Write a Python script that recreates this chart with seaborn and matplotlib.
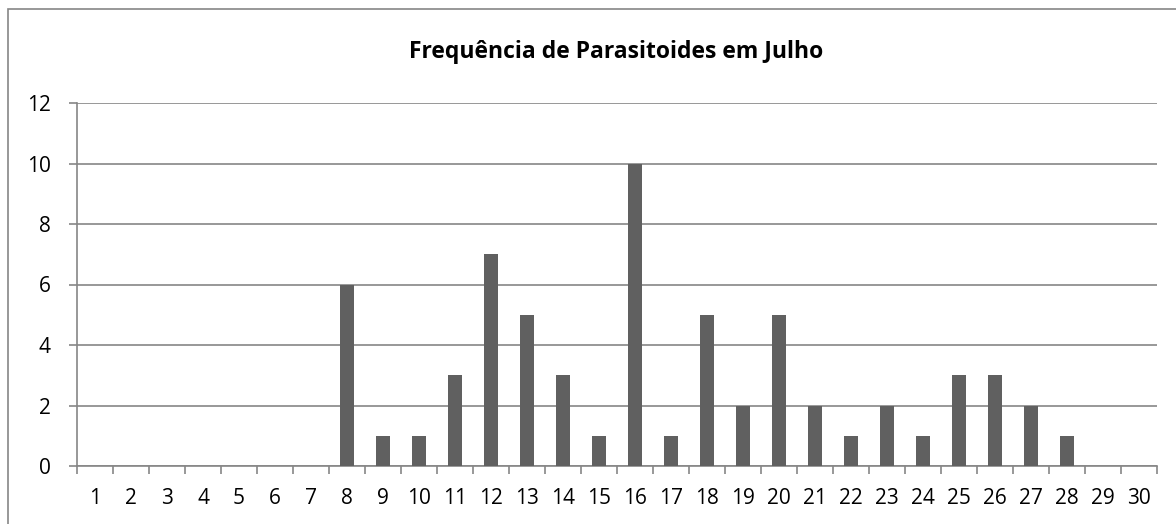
import matplotlib
matplotlib.use("Agg")
import matplotlib.pyplot as plt
import seaborn as sns
import pandas as pd
from matplotlib.patches import Rectangle

# dados
dias = [str(d) for d in range(1, 31)]
frequencia = [0, 0, 0, 0, 0, 0, 0, 6, 1, 1, 3, 7, 5, 3, 1,
              10, 1, 5, 2, 5, 2, 1, 2, 1, 3, 3, 2, 1, 0, 0]
yticks = [0, 2, 4, 6, 8, 10, 12]

df = pd.DataFrame({"dia": dias, "freq": frequencia})

sns.set_style("white")
plt.rcParams["font.family"] = ["Open Sans", "DejaVu Sans"]

fig = plt.figure(figsize=(11.76, 5.24), dpi=100)
ax = fig.add_axes([77 / 1176, 58 / 524, 1080 / 1176, 363 / 524])

grid_c = "#868686"
# borda externa do gráfico (só topo e esquerda ficam visíveis)
fig.patches.append(Rectangle((8 / 1176, -0.1), 1.2, (524 - 9) / 524 + 0.1,
                             transform=fig.transFigure, fill=False,
                             edgecolor=grid_c, linewidth=1.2))

sns.barplot(data=df, x="dia", y="freq", color="#606060", width=0.39,
            saturation=1, linewidth=0, ax=ax, zorder=3)

ax.set_xlim(-0.5, 29.5)
ax.set_ylim(0, 12)
ax.set_yticks(yticks)
ax.yaxis.grid(True, color=grid_c, linewidth=1.2, zorder=0)
ax.set_axisbelow(True)
for s in ["top", "right"]:
    ax.spines[s].set_visible(False)
for s in ["left", "bottom"]:
    ax.spines[s].set_color(grid_c)
    ax.spines[s].set_linewidth(1.2)

# marcas do eixo x entre categorias
ax.set_xticks([i + 0.5 for i in range(-1, 30)], minor=True)
ax.tick_params(axis="x", which="minor", bottom=True, length=6, width=1.2,
               color=grid_c, direction="out")
ax.tick_params(axis="x", which="major", bottom=False, length=0, labelsize=15,
               labelcolor="black", pad=16)
ax.tick_params(axis="y", left=True, length=6, width=1.2, color=grid_c,
               labelsize=15, labelcolor="black", pad=13, direction="out")
ax.set_xlabel("")
ax.set_ylabel("")

fig.text(616 / 1176, 1 - 52 / 524, "Frequência de Parasitoides em Julho",
         ha="center", va="center", fontsize=16.5, fontweight="bold", color="black")

fig.savefig("out.png", dpi=100)
